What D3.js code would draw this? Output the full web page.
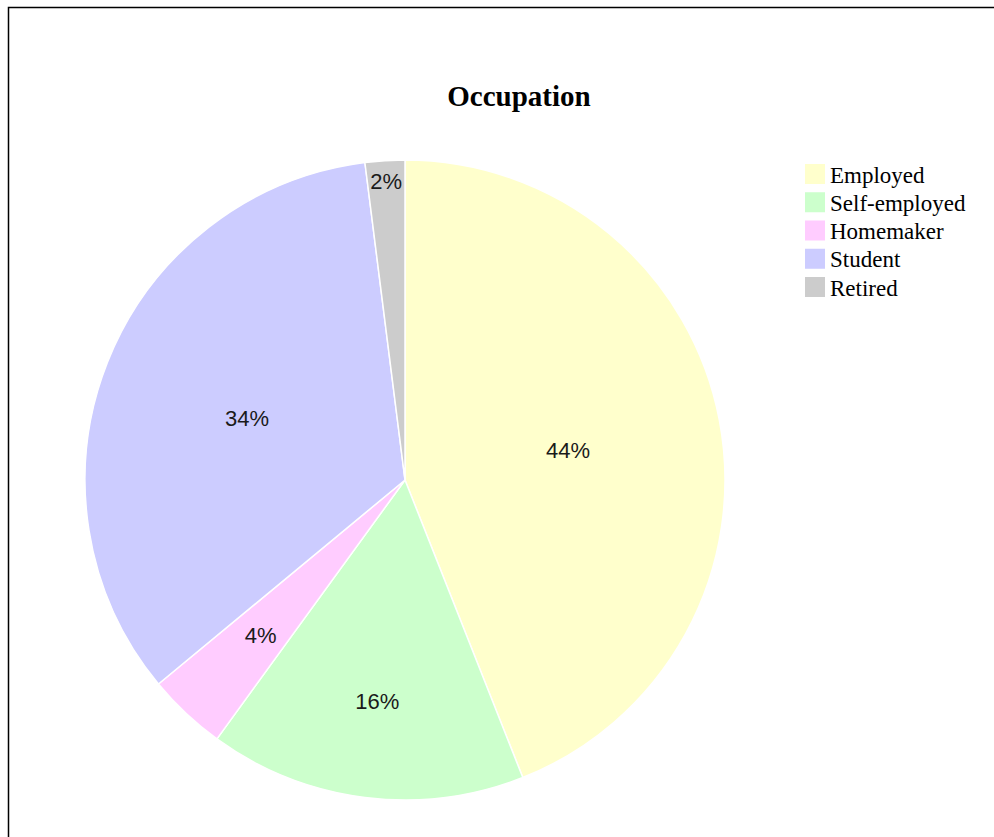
<!DOCTYPE html>
<html>
<head>
<meta charset="utf-8">
<script src="https://cdn.jsdelivr.net/npm/d3@7"></script>
<style>
  html, body { margin: 0; padding: 0; background: #fff; }
  svg { display: block; }
</style>
</head>
<body>
<svg id="chart" width="994" height="837"></svg>
<script>
// Occupation breakdown, percent of respondents
const categories = ["Employed", "Self-employed", "Homemaker", "Student", "Retired"];
const values = [44, 16, 4, 34, 2];
const colors = ["#ffffcc", "#ccffcc", "#ffccff", "#ccccff", "#cccccc"];
// distance of each percent label from the pie centre, in px
const labelRadius = [166, 222, 211, 170, 300];

const W = 994, H = 837;
const cx = 405, cy = 480, R = 320;

const svg = d3.select("#chart");

// frame
svg.append("rect")
  .attr("x", 8.5).attr("y", 7.5)
  .attr("width", W + 20).attr("height", H + 20)
  .attr("fill", "none").attr("stroke", "#000").attr("stroke-width", 1.5);

// title
svg.append("text")
  .attr("x", 519).attr("y", 106)
  .attr("text-anchor", "middle")
  .style("font-family", "'Liberation Serif', 'Times New Roman', serif")
  .style("font-weight", "bold")
  .style("font-size", "29px")
  .text("Occupation");

const data = categories.map((c, i) => ({ name: c, value: values[i], color: colors[i], lr: labelRadius[i] }));

const pie = d3.pie().value(d => d.value).sort(null);
const arcs = pie(data);
const arc = d3.arc().innerRadius(0).outerRadius(R);

const g = svg.append("g").attr("transform", `translate(${cx},${cy})`);

g.selectAll("path.slice")
  .data(arcs)
  .join("path")
  .attr("class", "slice")
  .attr("d", arc)
  .attr("fill", d => d.data.color)
  .attr("stroke", "#fff")
  .attr("stroke-width", 1.5);

g.selectAll("text.pct")
  .data(arcs)
  .join("text")
  .attr("class", "pct")
  .attr("transform", d => {
    const a = (d.startAngle + d.endAngle) / 2;
    return `translate(${Math.sin(a) * d.data.lr},${-Math.cos(a) * d.data.lr})`;
  })
  .attr("text-anchor", "middle")
  .attr("dy", "0.4em")
  .style("font-family", "'Liberation Sans', Arial, sans-serif")
  .style("font-size", "22px")
  .attr("fill", "#1a1a1a")
  .text(d => d.data.value + "%");

// legend
const legend = svg.append("g").attr("transform", "translate(805,164)");
const rowH = 28.25;
const rows = legend.selectAll("g.row")
  .data(data)
  .join("g")
  .attr("class", "row")
  .attr("transform", (d, i) => `translate(0,${i * rowH})`);

rows.append("rect")
  .attr("width", 20).attr("height", 20)
  .attr("fill", d => d.color);

rows.append("text")
  .attr("x", 25).attr("y", 18.5)
  .style("font-family", "'Liberation Serif', 'Times New Roman', serif")
  .style("font-size", "23px")
  .attr("fill", "#000")
  .text(d => d.name);
</script>
</body>
</html>
